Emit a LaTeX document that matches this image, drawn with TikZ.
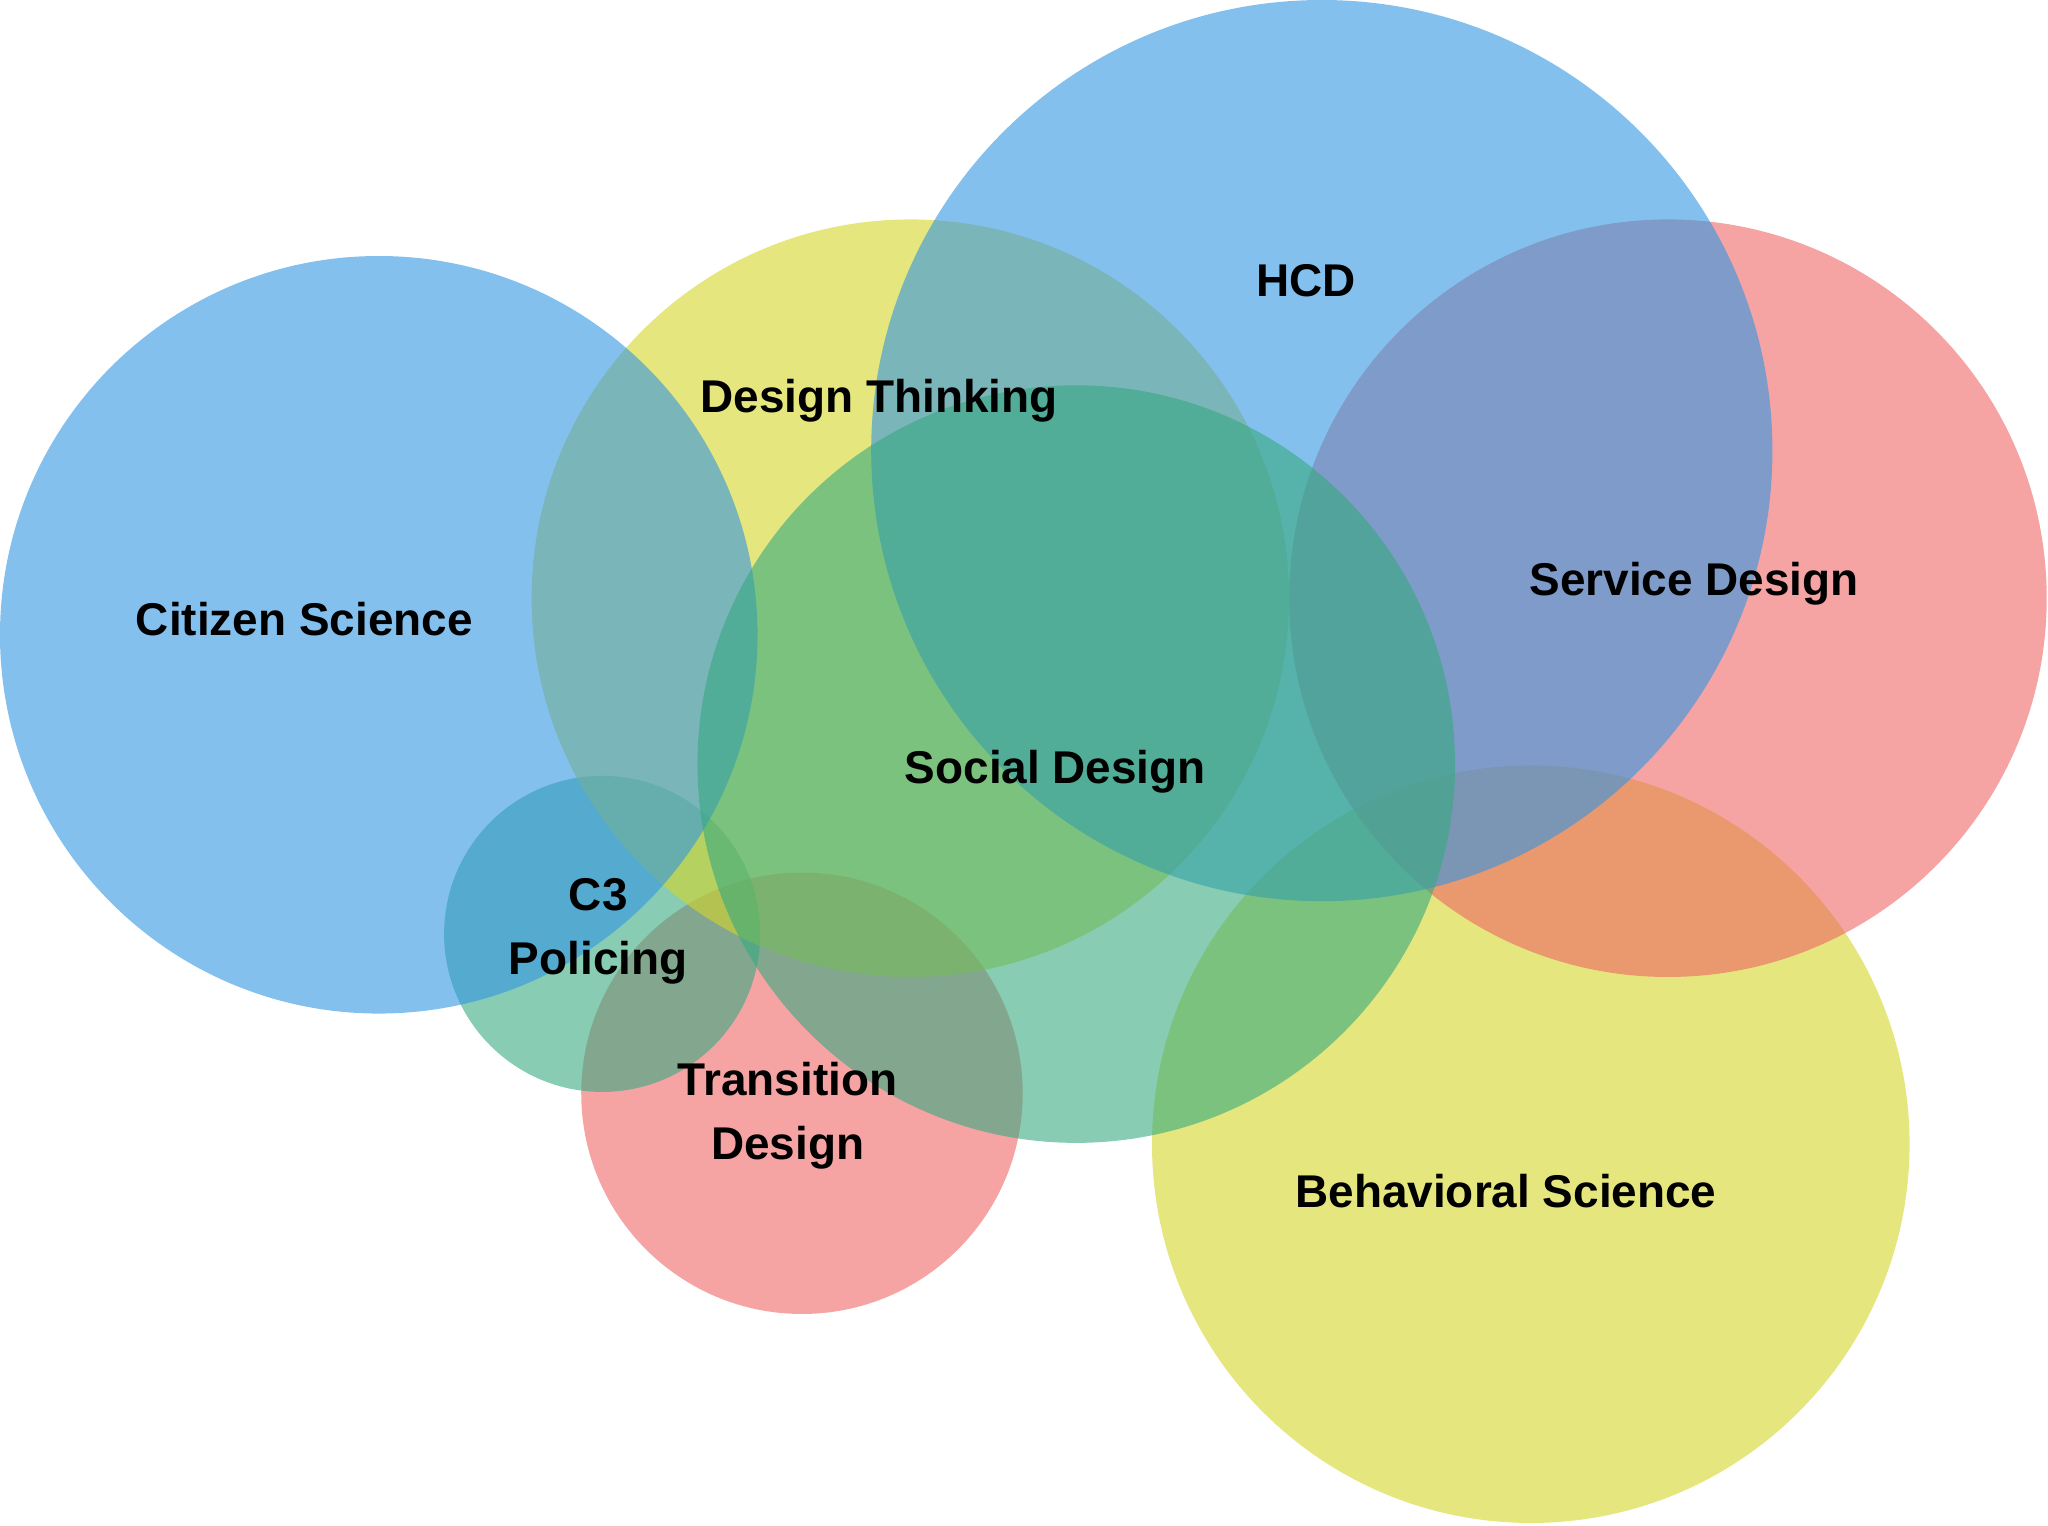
\documentclass[tikz,border=0pt]{standalone}
\usepackage{fontspec}
\setmainfont{Liberation Sans}
\usepackage{tikz}
\definecolor{vblue}{RGB}{50,150,227}
\definecolor{vyellow}{RGB}{212,213,40}
\definecolor{vred}{RGB}{238,102,102}
\definecolor{vteal}{RGB}{55,170,128}
\begin{document}
\begin{tikzpicture}[
    field/.style={fill opacity=0.6},
    lbl/.style={font=\fontsize{10}{14}\selectfont\bfseries, align=center, text=black}
    ]
    \useasboundingbox (0,0) rectangle (15.68,11.68);
    % circles, back to front
    \fill[field, vred]    (6.14,3.31) circle (1.69);
    \fill[field, vteal]   (4.61,4.53) circle (1.21);
    \fill[field, vyellow] (6.97,7.10) circle (2.90);
    \fill[field, vblue]   (2.90,6.82) circle (2.90);
    \fill[field, vyellow] (11.72,2.92) circle (2.90);
    \fill[field, vred]    (12.77,7.10) circle (2.90);
    \fill[field, vblue]   (10.12,8.23) circle (3.45);
    \fill[field, vteal]   (8.24,5.83) circle (2.90);
    % labels
    \node[lbl] (citizen)    at (2.33,6.94)  {Citizen Science};
    \node[lbl] (thinking)   at (6.73,8.61)  {Design Thinking};
    \node[lbl] (hcd)        at (10.00,9.53) {HCD};
    \node[lbl] (service)    at (12.97,7.21) {Service Design};
    \node[lbl] (social)     at (8.08,5.77)  {Social Design};
    \node[lbl] (c3)         at (4.58,4.55)  {C3\\Policing};
    \node[lbl] (transition) at (6.03,3.14)  {Transition\\Design};
    \node[lbl] (behavioral) at (11.53,2.56) {Behavioral Science};
\end{tikzpicture}
\end{document}
